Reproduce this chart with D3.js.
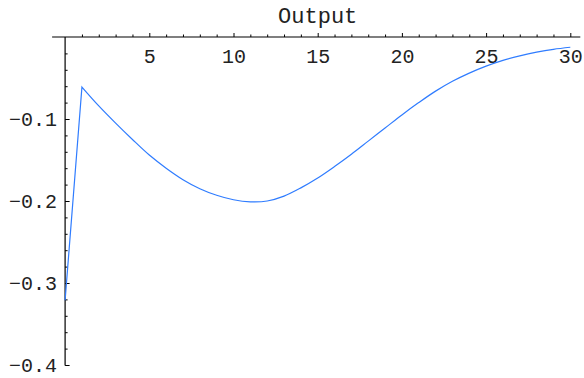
<!DOCTYPE html>
<html>
<head>
<meta charset="utf-8">
<script src="https://cdn.jsdelivr.net/npm/d3@7"></script>
<style>
  body { margin: 0; background: #fff; }
  text { font-family: "Liberation Mono", "DejaVu Sans Mono", monospace; fill: #222; }
</style>
</head>
<body>
<svg id="chart" width="584" height="378"></svg>
<script>
// data
const steps = [0, 1, 2, 3, 4, 5, 6, 7, 8, 9, 10, 11, 12, 13, 14, 15,
  16, 17, 18, 19, 20, 21, 22, 23, 24, 25, 26, 27, 28, 29, 30];
const output = [-0.321, -0.061, -0.084, -0.105, -0.125, -0.144, -0.160, -0.174,
  -0.185, -0.193, -0.1985, -0.201, -0.200, -0.194, -0.184, -0.172, -0.158,
  -0.143, -0.127, -0.111, -0.095, -0.080, -0.066, -0.054, -0.044, -0.0355,
  -0.0285, -0.023, -0.0185, -0.015, -0.0125];
const xMajor = [5, 10, 15, 20, 25, 30];
const yMajor = [-0.1, -0.2, -0.3, -0.4];
const title = "Output";

const svg = d3.select("#chart");

const x = d3.scaleLinear().domain([0, 30]).range([65.1, 570.3]);
const y = d3.scaleLinear().domain([0, -0.4]).range([37, 365]);

const xMinor = d3.range(1, 31).filter(d => d % 5 != 0);
const yMinor = d3.range(1, 20).map(i => -i * 0.02).filter((d, i) => (i + 1) % 5 != 0);

const fmtY = d => d3.format(".1f")(d);

// x axis: ticks point up, labels underneath
const xAxis = svg.append("g").attr("transform", `translate(0,${y(0)})`);
xAxis.append("line")
  .attr("x1", x.range()[0] - 13).attr("x2", x.range()[1] + 10)
  .attr("stroke", "black").attr("stroke-width", 1.2);
xAxis.append("g")
  .call(d3.axisBottom(x).tickValues(xMinor).tickSizeInner(-2.5).tickSizeOuter(0).tickFormat(""))
  .call(g => g.select(".domain").remove());
xAxis.append("g")
  .call(d3.axisBottom(x).tickValues(xMajor).tickSizeInner(-4).tickSizeOuter(0).tickPadding(11.8))
  .call(g => g.select(".domain").remove())
  .call(g => g.selectAll("text").attr("font-size", 20).attr("font-family", null).attr("fill", "#222"));

// y axis: ticks point right, labels on the left
const yAxis = svg.append("g").attr("transform", `translate(${x(0)},0)`);
yAxis.append("line")
  .attr("y1", y(0)).attr("y2", y(-0.4) + 0.5)
  .attr("stroke", "black").attr("stroke-width", 1.2);
yAxis.append("g")
  .call(d3.axisLeft(y).tickValues(yMinor).tickSizeInner(-2.5).tickSizeOuter(0).tickFormat(""))
  .call(g => g.select(".domain").remove());
yAxis.append("g")
  .call(d3.axisLeft(y).tickValues(yMajor).tickSizeInner(-4.5).tickSizeOuter(0).tickPadding(8).tickFormat(fmtY))
  .call(g => g.select(".domain").remove())
  .call(g => g.selectAll("text").attr("font-size", 20).attr("font-family", null).attr("fill", "#222"));

svg.selectAll(".tick line").attr("stroke", "black").attr("stroke-width", 1);

// curve: straight jump from 0 to 1, smooth afterwards
const pts = steps.map((s, i) => [s, output[i]]);
const straight = d3.line().x(d => x(d[0])).y(d => y(d[1]));
const smooth = d3.line().x(d => x(d[0])).y(d => y(d[1])).curve(d3.curveCatmullRom.alpha(0.5));
svg.append("path")
  .attr("d", straight(pts.slice(0, 2)) + smooth(pts.slice(1)).replace(/^M[^C]*/, ""))
  .attr("fill", "none")
  .attr("stroke", "#2f7cff")
  .attr("stroke-width", 1.2)
  .attr("stroke-linejoin", "miter");

// title
svg.append("text")
  .attr("x", x(15))
  .attr("y", 23)
  .attr("text-anchor", "middle")
  .attr("font-size", 22)
  .text(title);
</script>
</body>
</html>
